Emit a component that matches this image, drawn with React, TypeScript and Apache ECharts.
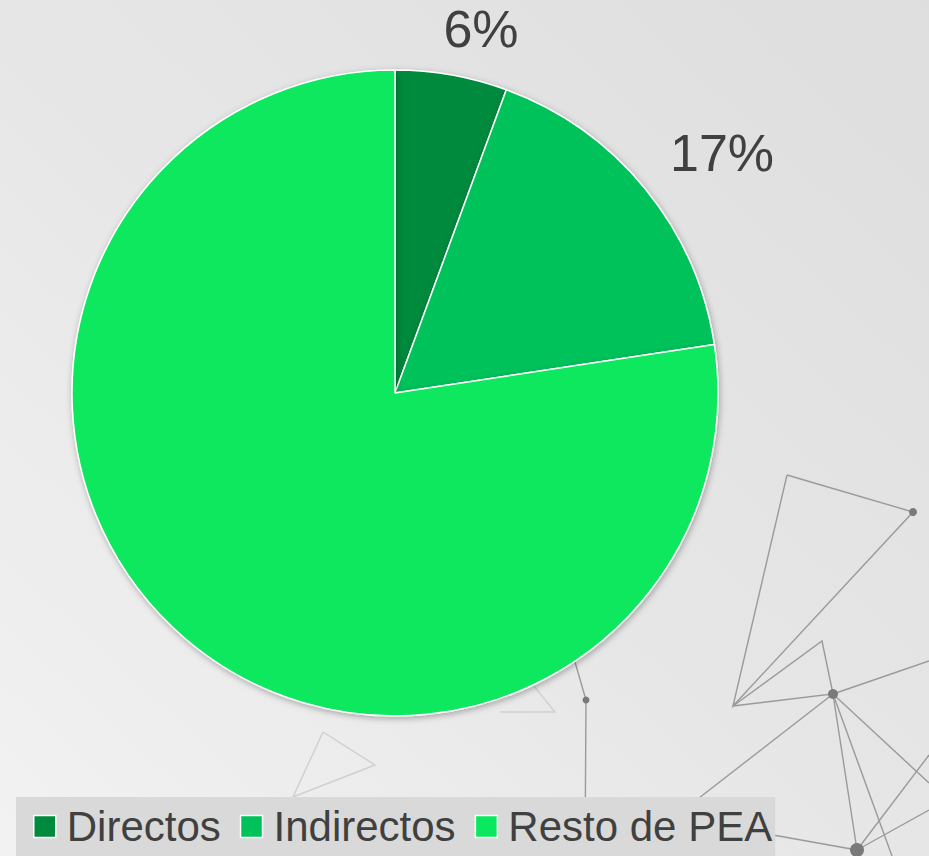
import React, { useEffect, useRef } from "react";
import * as echarts from "echarts";

const categories = ["Directos", "Indirectos", "Resto de PEA"];
const values = [5.6, 17.0, 77.4];
const showLabel = [true, true, false];
const colors = ["#008A3E", "#00C25A", "#0AE85F"];

// decorative network lines in the background (not data)
const decoLines: number[][][] = [
  [[787, 475], [913, 512], [733, 706], [787, 475]],
  [[733, 706], [822, 641], [833, 694], [733, 706]],
  [[833, 694], [929, 661]],
  [[833, 694], [690, 805]],
  [[833, 694], [857, 850]],
  [[833, 694], [892, 856]],
  [[833, 694], [929, 783]],
  [[857, 850], [929, 755]],
  [[857, 850], [929, 810]],
  [[773, 835], [857, 850]],
  [[575, 662], [586, 700], [585, 856]],
];
const faintLines: number[][][] = [
  [[323, 732], [375, 765], [293, 797], [323, 732]],
  [[533, 685], [555, 712], [500, 712]],
  [[293, 797], [270, 856]],
];
const dots: number[][] = [
  [913, 512, 4],
  [833, 694, 5],
  [857, 850, 7],
  [586, 700, 3.5],
];

export default function App() {
  const ref = useRef<HTMLDivElement>(null);
  useEffect(() => {
    document.body.style.margin = "0";
    if (!ref.current) return;
    const chart = echarts.init(ref.current, undefined, { renderer: "svg" });
    const labelShift: Record<number, number[]> = { 0: [-16, -2], 1: [-10, -7] };
    const graphics: any[] = [];
    decoLines.forEach((pts) =>
      graphics.push({
        type: "polyline",
        z: 0,
        silent: true,
        shape: { points: pts },
        style: { stroke: "#9a9a9a", lineWidth: 1.4, fill: null },
      })
    );
    faintLines.forEach((pts) =>
      graphics.push({
        type: "polyline",
        z: 0,
        silent: true,
        shape: { points: pts },
        style: { stroke: "#cfcfcf", lineWidth: 1.4, fill: null },
      })
    );
    dots.forEach(([x, y, r]) =>
      graphics.push({
        type: "circle",
        z: 0,
        silent: true,
        shape: { cx: x, cy: y, r },
        style: { fill: "#7a7a7a" },
      })
    );
    chart.setOption({
      animation: false,
      backgroundColor: {
        type: "linear",
        x: 0,
        y: 1,
        x2: 1,
        y2: 0,
        colorStops: [
          { offset: 0, color: "#f2f2f2" },
          { offset: 0.5, color: "#e6e6e6" },
          { offset: 1, color: "#dedede" },
        ],
      },
      color: colors,
      graphic: { elements: graphics },
      legend: {
        data: categories,
        left: 16,
        top: 797,
        orient: "horizontal",
        backgroundColor: "#d9d9d9",
        padding: [8, 3, 8, 17],
        itemGap: 19,
        itemWidth: 22,
        itemHeight: 22,
        icon: "rect",
        itemStyle: { borderColor: "#ffffff", borderWidth: 1.5 },
        textStyle: {
          fontFamily: "Liberation Sans, Arial, sans-serif",
          fontSize: 42,
          lineHeight: 43,
          color: "#404040",
          padding: [0, 0, 0, 6],
        },
      },
      series: [
        {
          type: "pie",
          center: [395, 393],
          radius: 323,
          startAngle: 90,
          clockwise: true,
          itemStyle: {
            borderColor: "#ffffff",
            borderWidth: 1.5,
            shadowBlur: 6,
            shadowColor: "rgba(0,0,0,0.3)",
            shadowOffsetX: 1,
            shadowOffsetY: 2,
          },
          label: {
            show: true,
            position: "outside",
            formatter: (p: any) => `${Math.round(p.value)}%`,
            fontFamily: "Liberation Sans, Arial, sans-serif",
            fontSize: 52,
            color: "#404040",
            distanceToLabelLine: 0,
          },
          labelLine: { show: false, length: 45, length2: 0 },
          labelLayout: (p: any) => {
            const s = labelShift[p.dataIndex];
            return s ? { dx: s[0], dy: s[1] } : {};
          },
          emphasis: { disabled: true },
          data: categories.map((name, i) => ({
            name,
            value: values[i],
            label: { show: showLabel[i] },
          })),
        },
      ],
    });
    return () => chart.dispose();
  }, []);
  return <div ref={ref} style={{ width: 929, height: 856 }} />;
}
